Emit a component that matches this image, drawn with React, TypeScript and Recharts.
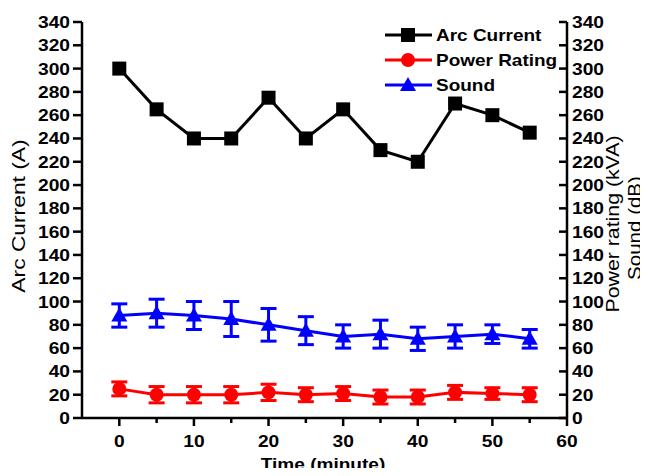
import {
  ComposedChart,
  Line,
  XAxis,
  YAxis,
  ErrorBar,
} from 'recharts';

const TIME = [0, 5, 10, 15, 20, 25, 30, 35, 40, 45, 50, 55];
const ARC_CURRENT = [300, 265, 240, 240, 275, 240, 265, 230, 220, 270, 260, 245];
const POWER = [25, 20, 20, 20, 22, 20, 21, 18, 18, 22, 21, 20];
const POWER_ERR = [6, 7, 7, 7, 7, 6, 6, 6, 6, 6, 5, 6];
const SOUND = [88, 90, 88, 85, 80, 75, 70, 72, 68, 70, 72, 68];
const SOUND_ERR = [10, 12, 12, 15, 14, 12, 10, 12, 10, 10, 8, 8];
const X_TICKS = [0, 5, 10, 15, 20, 25, 30, 35, 40, 45, 50, 55, 60];
const Y_TICKS = [0, 20, 40, 60, 80, 100, 120, 140, 160, 180, 200, 220, 240, 260, 280, 300, 320, 340];

const data = TIME.map((t, i) => ({
  time: t,
  arc: ARC_CURRENT[i],
  power: POWER[i],
  powerErr: POWER_ERR[i],
  sound: SOUND[i],
  soundErr: SOUND_ERR[i],
}));

const FONT = '"Liberation Sans", Arial, sans-serif';
// the source figure is stretched sideways a little, so text gets a scaleX
const STRETCH = 1.2;

const LEGEND_ITEMS = [
  { label: 'Arc Current', color: '#000000', shape: 'square' },
  { label: 'Power Rating', color: '#ff0000', shape: 'circle' },
  { label: 'Sound', color: '#0000ff', shape: 'triangle' },
];

const TickText = ({ x, y, anchor, children }: any) => (
  <text
    transform={`translate(${x},${y}) scale(${STRETCH},1)`}
    textAnchor={anchor}
    fontFamily={FONT}
    fontWeight='bold'
    fontSize={16}
    fill='#000'
  >
    {children}
  </text>
);

const XTick = ({ x, y, payload }: any) => {
  const major = payload.value % 10 === 0;
  return (
    <g>
      <line x1={x} x2={x} y1={y} y2={y + (major ? 8 : 5)} stroke='#000' strokeWidth={2.5} />
      {major && (
        <TickText x={x} y={y + 29} anchor='middle'>
          {payload.value}
        </TickText>
      )}
    </g>
  );
};

const TopTick = ({ x, y, payload }: any) => {
  if (payload.value <= -5 || payload.value >= 60) return null;
  const major = payload.value % 10 === 0;
  return <line x1={x} x2={x} y1={y} y2={y + (major ? 7 : 4)} stroke='#000' strokeWidth={2.5} />;
};

const LeftTick = ({ x, y, payload }: any) => (
  <g>
    <line x1={x - 9} x2={x} y1={y} y2={y} stroke='#000' strokeWidth={2.5} />
    <TickText x={x - 12} y={y + 6} anchor='end'>
      {payload.value}
    </TickText>
  </g>
);

const RightTick = ({ x, y, payload }: any) => (
  <g>
    <line x1={x - 8} x2={x} y1={y} y2={y} stroke='#000' strokeWidth={2.5} />
    <TickText x={x + 5} y={y + 6} anchor='start'>
      {payload.value}
    </TickText>
  </g>
);

const Marker = ({ shape, color, cx, cy }: any) => {
  if (shape === 'square') return <rect x={cx - 7} y={cy - 7} width={14} height={14} fill={color} />;
  if (shape === 'circle') return <circle cx={cx} cy={cy} r={7} fill={color} />;
  return <polygon points={`${cx},${cy - 8} ${cx - 8},${cy + 6} ${cx + 8},${cy + 6}`} fill={color} />;
};

const LegendBox = () => (
  <svg width={185} height={75} style={{ position: 'absolute', left: 383, top: 25 }}>
    {LEGEND_ITEMS.map((item, i) => {
      const cy = 10 + i * 25;
      return (
        <g key={item.label}>
          <line x1={2} x2={49} y1={cy} y2={cy} stroke={item.color} strokeWidth={3} />
          <Marker shape={item.shape} color={item.color} cx={25} cy={cy} />
          <text
            transform={`translate(53,${cy + 6}) scale(1.15,1)`}
            fontFamily={FONT}
            fontWeight='bold'
            fontSize={16.5}
            fill='#000'
          >
            {item.label}
          </text>
        </g>
      );
    })}
  </svg>
);

const dot = (shape: string, color: string) => (props: any) => (
  <Marker key={`${shape}-${props.index}`} shape={shape} color={color} cx={props.cx} cy={props.cy} />
);

const titleStyle = {
  position: 'absolute' as const,
  whiteSpace: 'nowrap' as const,
  fontFamily: FONT,
  fontSize: 19,
  lineHeight: '20px',
};

export default function App() {
  return (
    <div style={{ position: 'relative', width: 648, height: 476, margin: -8, background: '#fff' }}>
      <ComposedChart width={648} height={476} data={data} margin={{ top: 22, right: 0, bottom: 0, left: 0 }}>
        <XAxis
          dataKey='time'
          type='number'
          domain={[-5, 60]}
          ticks={X_TICKS}
          interval={0}
          tickSize={0}
          tickMargin={0}
          tick={<XTick />}
          axisLine={{ stroke: '#000', strokeWidth: 2.5 }}
          height={58}
        />
        <XAxis
          xAxisId='top'
          orientation='top'
          type='number'
          domain={[-5, 60]}
          ticks={X_TICKS}
          interval={0}
          tickSize={0}
          tickMargin={0}
          tick={<TopTick />}
          axisLine={{ stroke: '#000', strokeWidth: 2.5 }}
          height={0}
        />
        <YAxis
          yAxisId='left'
          type='number'
          domain={[0, 340]}
          ticks={Y_TICKS}
          interval={0}
          tickSize={0}
          tickMargin={0}
          tick={<LeftTick />}
          axisLine={{ stroke: '#000', strokeWidth: 2.5 }}
          width={82}
        />
        <YAxis
          yAxisId='right'
          orientation='right'
          type='number'
          domain={[0, 340]}
          ticks={Y_TICKS}
          interval={0}
          tickSize={0}
          tickMargin={0}
          tick={<RightTick />}
          axisLine={{ stroke: '#000', strokeWidth: 2.5 }}
          width={81}
        />
        <Line
          yAxisId='left'
          dataKey='arc'
          name='Arc Current'
          stroke='#000'
          strokeWidth={3}
          dot={dot('square', '#000')}
          isAnimationActive={false}
        />
        <Line
          yAxisId='right'
          dataKey='power'
          name='Power Rating'
          stroke='#ff0000'
          strokeWidth={3}
          dot={dot('circle', '#ff0000')}
          isAnimationActive={false}
        >
          <ErrorBar dataKey='powerErr' width={8} stroke='#ff0000' strokeWidth={3} direction='y' />
        </Line>
        <Line
          yAxisId='right'
          dataKey='sound'
          name='Sound'
          stroke='#0000ff'
          strokeWidth={3}
          dot={dot('triangle', '#0000ff')}
          isAnimationActive={false}
        >
          <ErrorBar dataKey='soundErr' width={8} stroke='#0000ff' strokeWidth={3} direction='y' />
        </Line>
      </ComposedChart>
      <LegendBox />
      <div
        style={{
          ...titleStyle,
          left: 19,
          top: 216,
          transform: 'translate(-50%, -50%) rotate(-90deg) scale(1.2, 1)',
        }}
      >
        Arc Current (A)
      </div>
      <div
        style={{
          ...titleStyle,
          left: 613,
          top: 224,
          transform: 'translate(-50%, -50%) rotate(-90deg) scale(1.12, 1)',
        }}
      >
        Power rating (kVA)
      </div>
      <div
        style={{
          ...titleStyle,
          left: 635,
          top: 228,
          transform: 'translate(-50%, -50%) rotate(-90deg) scale(1.08, 1)',
        }}
      >
        Sound (dB)
      </div>
      <div
        style={{
          position: 'absolute',
          left: 323,
          top: 465,
          transform: 'translate(-50%, -50%) scale(1.12, 1)',
          whiteSpace: 'nowrap',
          fontFamily: FONT,
          fontWeight: 'bold',
          fontSize: 17,
        }}
      >
        Time (minute)
      </div>
    </div>
  );
}
